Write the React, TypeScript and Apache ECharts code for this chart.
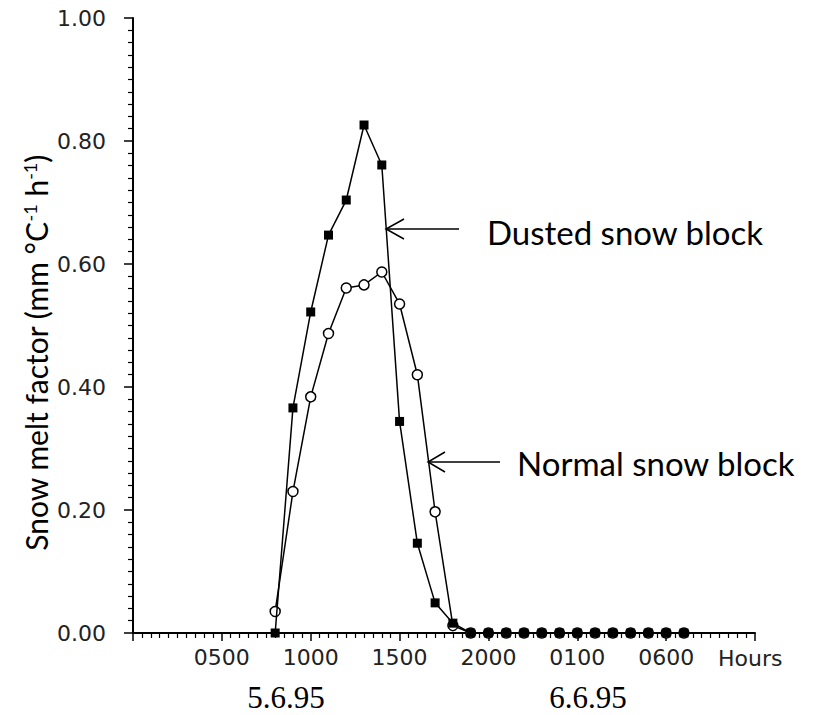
import React, { useEffect, useRef } from "react";
import * as echarts from "echarts";

// Hourly observations from 0800 on 5.6.95 to 0700 on 6.6.95 (hours since 0000 on 5.6.95)
const hours = [8, 9, 10, 11, 12, 13, 14, 15, 16, 17, 18, 19, 20, 21, 22, 23, 24, 25, 26, 27, 28, 29, 30, 31];

// Snow melt factor, mm °C-1 h-1
const dustedBlock = [0, 0.366, 0.522, 0.647, 0.704, 0.826, 0.761, 0.344, 0.146, 0.049, 0.016, 0, 0, 0, 0, 0, 0, 0, 0, 0, 0, 0, 0, 0];
const normalBlock = [0.035, 0.23, 0.384, 0.487, 0.561, 0.566, 0.587, 0.535, 0.42, 0.197, 0.012, 0, 0, 0, 0, 0, 0, 0, 0, 0, 0, 0, 0, 0];

// Hour-axis labels (clock time) at every fifth hour
const hourTicks = [5, 10, 15, 20, 25, 30];
const hourLabels = ["0500", "1000", "1500", "2000", "0100", "0600"];

const dayLabels = ["5.6.95", "6.6.95"];

const tickFont = "'DejaVu Sans', sans-serif";
const textFont = "Lato, 'Open Sans', sans-serif";

export default function App() {
  const ref = useRef<HTMLDivElement>(null);

  useEffect(() => {
    if (!ref.current) return;
    const chart = echarts.init(ref.current, null, { renderer: "svg" });

    chart.setOption({
      animation: false,
      backgroundColor: "#ffffff",
      grid: { left: 133, right: 58, top: 18, bottom: 82, containLabel: false },
      xAxis: {
        type: "value",
        min: 0,
        max: 35,
        interval: 5,
        axisLine: { show: true, lineStyle: { color: "#000", width: 2 } },
        axisTick: { show: true, length: 8, lineStyle: { color: "#000", width: 1.5 } },
        minorTick: { show: true, splitNumber: 10, length: 5, lineStyle: { color: "#000", width: 1.2 } },
        splitLine: { show: false },
        axisLabel: {
          showMinLabel: false,
          showMaxLabel: false,
          margin: 13,
          fontFamily: tickFont,
          fontSize: 22,
          color: "#222",
          formatter: (v: number) => {
            const i = hourTicks.indexOf(v);
            return i >= 0 ? hourLabels[i] : "";
          },
        },
      },
      yAxis: {
        type: "value",
        min: 0,
        max: 1,
        interval: 0.2,
        axisLine: { show: true, lineStyle: { color: "#000", width: 2 } },
        axisTick: { show: true, length: 9, lineStyle: { color: "#000", width: 1.5 } },
        minorTick: { show: true, splitNumber: 10, length: 5, lineStyle: { color: "#000", width: 1.2 } },
        splitLine: { show: false },
        axisLabel: {
          margin: 27,
          fontFamily: tickFont,
          fontSize: 22,
          color: "#222",
          formatter: (v: number) => v.toFixed(2),
        },
      },
      series: [
        {
          name: "Normal snow block",
          type: "line",
          data: hours.map((h, i) => [h, normalBlock[i]]),
          symbol: "circle",
          symbolSize: 10,
          lineStyle: { color: "#000", width: 1.5 },
          itemStyle: { color: "#fff", borderColor: "#000", borderWidth: 1.5 },
          z: 2,
        },
        {
          name: "Dusted snow block",
          type: "line",
          data: hours.map((h, i) => [h, dustedBlock[i]]),
          symbol: "rect",
          symbolSize: 9,
          lineStyle: { color: "#000", width: 1.5 },
          itemStyle: { color: "#000" },
          z: 3,
        },
      ],
      graphic: [
        {
          type: "text",
          x: 36,
          y: 353,
          rotation: Math.PI / 2,
          style: {
            text: "{a|Snow melt factor (mm °C}{s|-1}{a| h}{s|-1}{a|)}",
            align: "center",
            verticalAlign: "middle",
            rich: {
              a: { fontFamily: textFont, fontSize: 30, fill: "#000" },
              s: { fontFamily: textFont, fontSize: 18, fill: "#000", verticalAlign: "top" },
            },
          },
        },
        // arrow to the dusted curve
        { type: "line", shape: { x1: 459, y1: 229, x2: 386, y2: 229 }, style: { stroke: "#000", lineWidth: 1.5 } },
        { type: "polyline", shape: { points: [[404, 219], [386, 229], [404, 239]] }, style: { stroke: "#000", lineWidth: 1.5, fill: null } },
        {
          type: "text",
          x: 487,
          y: 232,
          style: { text: "Dusted snow block", fontFamily: textFont, fontSize: 33, fill: "#000", align: "left", verticalAlign: "middle" },
        },
        // arrow to the normal curve
        { type: "line", shape: { x1: 500, y1: 462, x2: 428, y2: 462 }, style: { stroke: "#000", lineWidth: 1.5 } },
        { type: "polyline", shape: { points: [[445, 452], [428, 462], [445, 472]] }, style: { stroke: "#000", lineWidth: 1.5, fill: null } },
        {
          type: "text",
          x: 517,
          y: 463,
          style: { text: "Normal snow block", fontFamily: textFont, fontSize: 33, fill: "#000", align: "left", verticalAlign: "middle" },
        },
        {
          type: "text",
          x: 718,
          y: 658,
          style: { text: "Hours", fontFamily: tickFont, fontSize: 22, fill: "#222", align: "left", verticalAlign: "middle" },
        },
        {
          type: "text",
          x: 286,
          y: 713,
          style: { text: dayLabels[0], fontFamily: "'Liberation Serif', serif", fontSize: 31, fill: "#000", align: "center", verticalAlign: "bottom" },
        },
        {
          type: "text",
          x: 588,
          y: 713,
          style: { text: dayLabels[1], fontFamily: "'Liberation Serif', serif", fontSize: 31, fill: "#000", align: "center", verticalAlign: "bottom" },
        },
      ],
    });

    return () => chart.dispose();
  }, []);

  return (
    <div
      ref={ref}
      style={{ position: "fixed", left: 0, top: 0, width: 813, height: 715, background: "#fff" }}
    />
  );
}
